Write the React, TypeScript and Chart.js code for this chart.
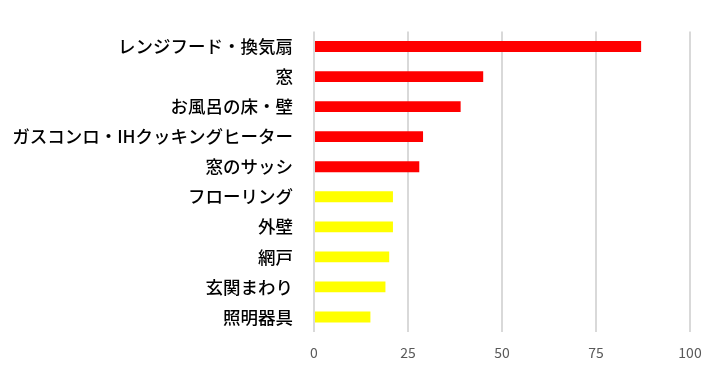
import React, { useEffect, useRef } from "react";
import { Chart, registerables } from "chart.js";

Chart.register(...registerables);

const categories = [
  "レンジフード・換気扇",
  "窓",
  "お風呂の床・壁",
  "ガスコンロ・IHクッキングヒーター",
  "窓のサッシ",
  "フローリング",
  "外壁",
  "網戸",
  "玄関まわり",
  "照明器具",
];
const values = [87, 45, 39, 29, 28, 21, 21, 20, 19, 15];
const barColors = [
  "#ff0000", "#ff0000", "#ff0000", "#ff0000", "#ff0000",
  "#ffff00", "#ffff00", "#ffff00", "#ffff00", "#ffff00",
];
const xTicks = [0, 25, 50, 75, 100];

export default function App() {
  const ref = useRef<HTMLCanvasElement | null>(null);
  useEffect(() => {
    if (!ref.current) return;
    const chart = new Chart(ref.current, {
      type: "bar",
      data: {
        labels: categories,
        datasets: [
          {
            data: values,
            backgroundColor: barColors,
            borderWidth: 0,
            categoryPercentage: 1,
            barPercentage: 0.36,
          },
        ],
      },
      options: {
        indexAxis: "y",
        animation: false,
        responsive: false,
        maintainAspectRatio: false,
        layout: { padding: { top: 23, right: 36, bottom: 0, left: 0 } },
        plugins: { legend: { display: false }, tooltip: { enabled: false } },
        scales: {
          x: {
            min: xTicks[0],
            max: xTicks[xTicks.length - 1],
            afterBuildTicks: (scale: any) => {
              scale.ticks = xTicks.map((v) => ({ value: v }));
            },
            afterFit: (scale: any) => {
              scale.height = 44;
            },
            grid: { color: "#d9d9d9", lineWidth: 2, drawTicks: false },
            border: { display: false },
            ticks: {
              padding: 12,
              color: "#595959",
              font: { family: "'Noto Sans CJK JP', sans-serif", size: 14 },
            },
          },
          y: {
            afterFit: (scale: any) => {
              scale.width = 314;
            },
            grid: { display: false, drawTicks: false },
            border: { display: false },
            ticks: {
              padding: 21,
              color: "#000000",
              autoSkip: false,
              font: { family: "'Noto Sans CJK JP', sans-serif", size: 17.5, weight: 500 },
            },
          },
        },
      },
    });
    return () => chart.destroy();
  }, []);
  return (
    <div style={{ position: "fixed", left: 0, top: 0, width: 726, height: 376, background: "#ffffff" }}>
      <canvas ref={ref} width={726} height={376} style={{ width: 726, height: 376 }} />
    </div>
  );
}
